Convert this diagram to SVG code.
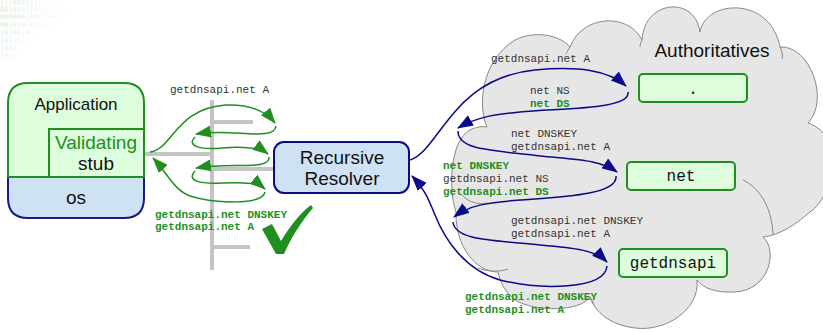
<svg xmlns="http://www.w3.org/2000/svg" width="823" height="332" viewBox="0 0 823 332">
<defs>
<style>
.sans{font-family:"Liberation Sans",Arial,sans-serif;fill:#111}
.mono{font-family:"Liberation Mono","Courier New",monospace;font-size:11px;fill:#333}
.gmono{font-family:"Liberation Mono","Courier New",monospace;font-size:11px;fill:#1f8f1f;font-weight:bold}
.gray{stroke:#c4c4c4;stroke-width:4;fill:none}
.garr{stroke:#1f8f1f;stroke-width:1.5;fill:none;marker-end:url(#gh)}
.narr{stroke:#0a0a8a;stroke-width:1.5;fill:none;marker-end:url(#nh)}
.abox{fill:#ddfddd;stroke:#1f8f1f;stroke-width:2}
.cloud{fill:#e6e6e6;stroke:#888;stroke-width:1}
.hook{fill:none;stroke:#888;stroke-width:1}
</style>
<marker id="gh" viewBox="0 0 16 12" refX="15" refY="6" markerWidth="16" markerHeight="12" markerUnits="userSpaceOnUse" orient="auto"><path d="M0,0 L16,6 L0,12 Z" fill="#1f8f1f"/></marker>
<marker id="nh" viewBox="0 0 16 12" refX="15" refY="6" markerWidth="16" markerHeight="12" markerUnits="userSpaceOnUse" orient="auto"><path d="M0,0 L16,6 L0,12 Z" fill="#0a0a8a"/></marker>
<linearGradient id="fade" x1="0" y1="0" x2="1" y2="0"><stop offset="0" stop-color="#d3e3d3"/><stop offset="1" stop-color="#ffffff"/></linearGradient>
</defs>

<g id="binary" font-family="Liberation Mono,monospace" font-size="7" fill="url(#fade)">
<text x="0" y="5">|||0001||||0001</text>
<text x="0" y="12">00|0|0||0|0||0|1|</text>
<text x="0" y="19">000000|00||000|0</text>
<text x="0" y="27">00|0|0|0|0|001</text>
<text x="0" y="35">|0|00|00|0</text>
<text x="0" y="43">|0||0|0|</text>
<text x="0" y="51">|000|0</text>
<text x="0" y="58">|0|0</text>
</g>

<g id="cloud">
<path class="cloud" d="M487,127 C477,105 482,60 515,40 C535,30 560,35 570,47 C582,15 628,12 642,40 C644,0 695,-5 700,32 C705,0 770,-5 780,47 C810,45 830,100 808,123 C845,135 835,195 810,212 C795,225 780,235 763,237 C778,250 770,290 735,292 C715,293 703,288 697,280 C700,310 665,332 635,328 C610,325 595,312 590,297 C580,312 535,312 515,300 C505,292 500,282 498,272 C475,272 455,245 456,212 C448,190 450,140 470,130 C476,127 482,126 487,127 Z"/>
<path class="hook" d="M462,195 C468,202 478,205 488,203"/>
<path class="hook" d="M478,268 C488,272 500,272 508,269"/>
<path class="hook" d="M743,180 C760,188 772,208 773,235"/>
<path class="hook" d="M780,47 C782,51 783,55 782,59"/>
<path class="hook" d="M642,40 C641,42 640,44 640,47"/>
<path class="hook" d="M570,47 C568,50 567,52 566,54"/>
<path class="hook" d="M590,297 C592,300 593,302 594,305"/>
<text class="sans" x="712" y="57" font-size="19" text-anchor="middle">Authoritatives</text>
</g>

<g id="timeline">
<line class="gray" x1="212" y1="100" x2="212" y2="270"/>
<line class="gray" x1="212" y1="122" x2="253" y2="122"/>
<line class="gray" x1="144" y1="154" x2="212" y2="154"/>
<line class="gray" x1="212" y1="169" x2="274" y2="169"/>
<line class="gray" x1="212" y1="247" x2="250" y2="247"/>
</g>

<g id="application">
<path d="M8,177 H144 V198 Q144,218 124,218 H28 Q8,218 8,198 Z" fill="#cfe2f3" stroke="#1a1a80" stroke-width="2"/>
<path d="M8,177 V103 Q8,83 28,83 H124 Q144,83 144,103 V177 Z" fill="#ddfddd" stroke="#1f8f1f" stroke-width="2"/>
<rect x="49" y="129" width="95" height="48" fill="none" stroke="#1f8f1f" stroke-width="2"/>
<text class="sans" x="76" y="110" font-size="17" text-anchor="middle">Application</text>
<text class="sans" x="96" y="149" font-size="19" text-anchor="middle" style="fill:#1f8f1f">Validating</text>
<text class="sans" x="96" y="170" font-size="19" text-anchor="middle">stub</text>
<text class="sans" x="76" y="204" font-size="19" text-anchor="middle">os</text>
</g>

<g id="resolver">
<rect x="274" y="142" width="135" height="51" rx="10" fill="#cfe2f3" stroke="#0a0a8a" stroke-width="2"/>
<text class="sans" x="342" y="164" font-size="19" text-anchor="middle">Recursive</text>
<text class="sans" x="342" y="185" font-size="19" text-anchor="middle">Resolver</text>
</g>

<g id="root">
<rect class="abox" x="639" y="74" width="108" height="28" rx="4"/>
<text x="693" y="94" font-family="Liberation Mono,monospace" font-size="16" fill="#111" text-anchor="middle">.</text>
</g>
<g id="net">
<rect class="abox" x="627" y="162" width="108" height="28" rx="4"/>
<text x="681" y="181" font-family="Liberation Mono,monospace" font-size="16" fill="#111" text-anchor="middle">net</text>
</g>
<g id="getdnsapi">
<rect class="abox" x="619" y="249" width="108" height="28" rx="4"/>
<text x="673" y="268" font-family="Liberation Mono,monospace" font-size="16" fill="#111" text-anchor="middle">getdnsapi</text>
</g>

<g id="connectors">
<path class="garr" d="M150,152 C172,150 176,108 226,105 C252,104 266,112 275,123"/>
<path class="garr" d="M276,126 C274,142 232,128 196,134"/>
<path class="garr" d="M195,137 C186,146 200,150 222,148 C246,146 260,148 268,154"/>
<path class="garr" d="M269,157 C270,171 230,162 196,168"/>
<path class="garr" d="M195,171 C186,181 200,184 222,183 C246,182 258,183 265,189"/>
<path class="garr" d="M265,192 C262,206 212,203 190,196 C174,190 168,174 153,158"/>
<path class="narr" d="M410,160 C440,150 452,78 535,70 C578,66 608,70 626,86"/>
<path class="narr" d="M628,92 C631,110 560,108 520,112 C490,115 475,118 458,128"/>
<path class="narr" d="M458,131 C458,150 490,150 540,156 C580,160 600,160 617,172"/>
<path class="narr" d="M616,176 C618,195 560,197 520,200 C485,203 470,205 454,217"/>
<path class="narr" d="M453,222 C455,240 490,240 540,245 C575,248 595,250 607,262"/>
<path class="narr" d="M607,266 C605,290 540,290 500,280 C465,270 445,240 435,215 C428,198 425,190 412,176"/>
</g>

<g id="labels">
<text class="mono" x="170" y="93">getdnsapi.net A</text>
<text class="gmono" x="155" y="218">getdnsapi.net DNSKEY</text>
<text class="gmono" x="155" y="230">getdnsapi.net A</text>
<text class="mono" x="491" y="62">getdnsapi.net A</text>
<text class="mono" x="530" y="94">net NS</text>
<text class="gmono" x="530" y="107">net DS</text>
<text class="mono" x="511" y="137">net DNSKEY</text>
<text class="mono" x="511" y="150">getdnsapi.net A</text>
<text class="gmono" x="443" y="169">net DNSKEY</text>
<text class="mono" x="443" y="182">getdnsapi.net NS</text>
<text class="gmono" x="443" y="195">getdnsapi.net DS</text>
<text class="mono" x="511" y="224">getdnsapi.net DNSKEY</text>
<text class="mono" x="511" y="237">getdnsapi.net A</text>
<text class="gmono" x="465" y="300">getdnsapi.net DNSKEY</text>
<text class="gmono" x="465" y="313">getdnsapi.net A</text>
</g>

<g id="check">
<path d="M262,229 L272,224 L281,241 C290,226 300,213 311,205 L313,208 C301,222 291,238 284,254 L276,254 Z" fill="#1f8f1f"/>
</g>
</svg>
